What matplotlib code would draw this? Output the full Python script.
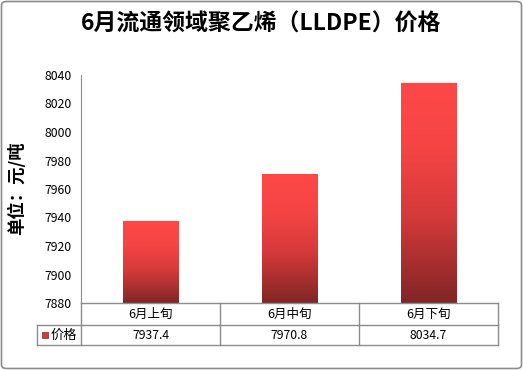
import numpy as np
import matplotlib.pyplot as plt
from matplotlib.colors import LinearSegmentedColormap
from matplotlib.patches import FancyBboxPatch, Rectangle
from matplotlib.transforms import Affine2D

plt.rcParams['font.family'] = ['Noto Sans CJK SC', 'DejaVu Sans']

# data
categories = ['6月上旬', '6月中旬', '6月下旬']
prices = [7937.4, 7970.8, 8034.7]
value_labels = ['7937.4', '7970.8', '8034.7']
series_name = '价格'
y_ticks = list(range(7880, 8041, 20))

W, H = 523, 370
fig = plt.figure(figsize=(W / 100, H / 100), dpi=100)

# pixel transform (origin top-left)
px = Affine2D().scale(1 / W, -1 / H).translate(0, 1) + fig.transFigure

# outer border
fig.patches.append(FancyBboxPatch((1.5 / W, 1.5 / H), 1 - 3 / W, 1 - 3 / H,
                                  boxstyle='round,pad=0,rounding_size=0.01',
                                  transform=fig.transFigure, fill=False,
                                  edgecolor='#8c8c8c', lw=1.2))

fig.text(0.5, 1 - 24 / H, '6月流通领域聚乙烯（LLDPE）价格', ha='center', va='center',
         fontsize=16.5, fontweight='bold')

L, R, T, B = 81, 498, 75, 303
ax = fig.add_axes([L / W, 1 - B / H, (R - L) / W, (B - T) / H])
ax.set_yticks(y_ticks)
ax.tick_params(axis='y', length=0, labelsize=8.8, pad=6.5)
ax.set_xticks([])
for s in ['top', 'right', 'bottom']:
    ax.spines[s].set_visible(False)
ax.spines['left'].set_color('#8c8c8c')

cmap = LinearSegmentedColormap.from_list('bar', [(0, '#822525'), (0.4, '#d63a3a'),
                                                 (0.7, '#f54444'), (1, '#ff4848')])
grad = np.linspace(0, 1, 256).reshape(-1, 1)
bars = ax.bar(range(len(prices)), np.array(prices) - 7880, bottom=7880, width=0.4,
              color='none', edgecolor='none')
for b in bars:
    x0, y0, w, h = b.get_x(), b.get_y(), b.get_width(), b.get_height()
    im = ax.imshow(grad, cmap=cmap, origin='lower', aspect='auto',
                   extent=[x0, x0 + w, y0, y0 + h], zorder=2)
    im.set_clip_path(b)
ax.set_xlim(-0.5, 2.5)
ax.set_ylim(7880, 8040)

fig.text(17 / W, 1 - 188 / H, '单位：元/吨', rotation=90, ha='center', va='center',
         fontsize=12.5, fontweight='bold')

# data table
gc = '#8c8c8c'
cols = [81, 220, 359, 498]
lines = [([81, 498], [303, 303]), ([37, 498], [325, 325]), ([37, 498], [345, 345]),
         ([37, 37], [325, 345])]
for c in cols:
    lines.append(([c, c], [303, 345]))
for xs, ys in lines:
    fig.add_artist(plt.Line2D(xs, ys, transform=px, color=gc, lw=1))
for i, (cat, val) in enumerate(zip(categories, value_labels)):
    xc = (cols[i] + cols[i + 1]) / 2
    fig.text(xc, 314, cat, transform=px, ha='center', va='center', fontsize=9)
    fig.text(xc, 335.5, val, transform=px, ha='center', va='center', fontsize=8.8)
fig.add_artist(Rectangle((42, 332), 6, 6, transform=px, facecolor='#d63a3a',
                         edgecolor='#822525', lw=0.5))
fig.text(51, 335, series_name, transform=px, ha='left', va='center', fontsize=9.5)

fig.savefig('out.png', dpi=100)
